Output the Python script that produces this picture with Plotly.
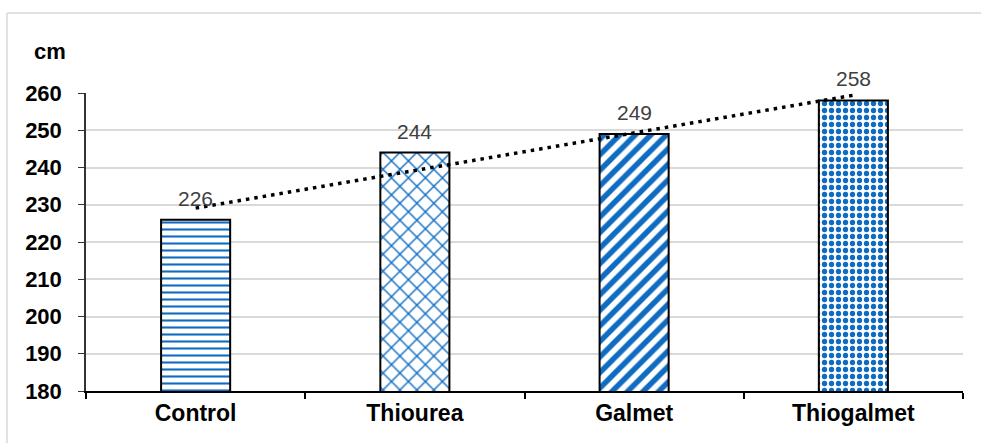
import numpy as np
import plotly.graph_objects as go

# Plant height by treatment
categories = ["Control", "Thiourea", "Galmet", "Thiogalmet"]
heights = [226, 244, 249, 258]
patterns = ["-", "x", "/", "."]
pattern_sizes = [7, 12, 11, 7]
pattern_solidity = [0.3, 0.22, 0.5, 0.45]
y_ticks = [180, 190, 200, 210, 220, 230, 240, 250, 260]

# Linear trend through the treatment means
idx = np.arange(1, len(heights) + 1)
slope, intercept = np.polyfit(idx, heights, 1)
trend = slope * idx + intercept

BLUE = "#0f6cc2"
FONT = "Liberation Sans, Arial, sans-serif"

fig = go.Figure()
fig.add_trace(go.Bar(
    x=categories,
    y=heights,
    width=0.315,
    marker=dict(
        color="white",
        line=dict(color="black", width=2),
        pattern=dict(shape=patterns, fgcolor=BLUE, fgopacity=1,
                     bgcolor="white",
                     size=pattern_sizes, solidity=pattern_solidity),
    ),
    showlegend=False,
    hoverinfo="x+y",
))
fig.add_trace(go.Scatter(
    x=categories,
    y=trend,
    mode="lines",
    line=dict(color="black", width=3.5, dash="3.5px,5px"),
    showlegend=False,
    hoverinfo="skip",
))

# Value labels above each bar
for c, v in zip(categories, heights):
    fig.add_annotation(x=c, y=v, text=str(v), showarrow=False,
                       yanchor="bottom", yshift=8,
                       font=dict(family=FONT, size=21, color="#404040"))

# Axis unit
fig.add_annotation(xref="paper", yref="paper", x=-0.041, y=1.14,
                   text="<b>cm</b>", showarrow=False,
                   xanchor="center", yanchor="middle",
                   font=dict(family=FONT, size=22, color="black"))

# Chart frame (left and top edges)
frame = dict(type="line", xref="paper", yref="paper",
             line=dict(color="#d9d9d9", width=1.5))
fig.add_shape(**frame, x0=-0.0901, x1=-0.0901, y0=-0.3, y1=1.2685)
fig.add_shape(**frame, x0=-0.0901, x1=1.1, y0=1.2685, y1=1.2685)

fig.update_layout(
    width=981, height=443,
    margin=dict(l=86, r=18, t=93, b=52),
    paper_bgcolor="white", plot_bgcolor="white",
    font=dict(family=FONT, color="black"),
    xaxis=dict(
        type="category",
        showline=True, linecolor="black", linewidth=2,
        ticks="outside", tickson="boundaries", ticklen=6,
        tickcolor="black", tickwidth=1.5,
        tickfont=dict(family=FONT, size=23, color="black", weight="bold"),
        showgrid=False,
    ),
    yaxis=dict(
        range=[180, 260],
        tickvals=y_ticks,
        showline=True, linecolor="#333333", linewidth=1.5,
        ticks="outside", ticklen=6, tickcolor="#333333",
        tickfont=dict(family=FONT, size=22, color="black", weight="bold"),
        ticklabelstandoff=12,
        showgrid=True, gridcolor="#d9d9d9", gridwidth=1.5,
        zeroline=False,
    ),
)

fig.write_html("out.html")
